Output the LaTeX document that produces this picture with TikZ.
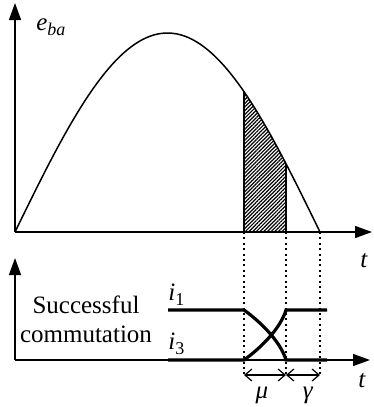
\documentclass[tikz,border=0pt]{standalone}
\usepackage{fontspec}
\setmainfont{Liberation Serif}
\usetikzlibrary{arrows.meta,patterns.meta}
\newcommand{\lowidx}[1]{\raisebox{-2.5pt}{\fontsize{9}{10}\selectfont #1}}

\begin{document}
\begin{tikzpicture}[
  x=0.5pt, y=-0.5pt,
  axis/.style={-{Triangle[length=8.5pt,width=6pt]}, line width=0.75pt},
  wave/.style={line width=0.75pt},
  current/.style={line width=1.6pt},
  guide/.style={line width=1pt, dash pattern=on 1pt off 1.7pt},
  dim/.style={{Straight Barb[length=3.5pt,width=6pt]}-{Straight Barb[length=3.5pt,width=6pt]}, line width=0.6pt},
  lbl/.style={inner sep=0pt, font=\fontsize{12.5}{15}\selectfont}
]
\useasboundingbox (0,0) rectangle (374,407);
\coordinate (o1) at (15,232);
\coordinate (o2) at (15,360);
\coordinate (y1) at (15,3);
\coordinate (x1) at (372,232);
\coordinate (y2) at (15,258);
\coordinate (x2) at (370,360);

\fill[pattern={Lines[angle=45,distance=1.3pt,line width=0.6pt]}]
  (244,232) -- plot[domain=244:286, samples=20] (\x, {232-199*sin((\x-15)/305*180)}) -- (286,232) -- cycle;
\draw[wave] (244,232) -- (244,{232-199*sin((244-15)/305*180)});
\draw[wave] (286,232) -- (286,{232-199*sin((286-15)/305*180)});
\draw[wave] plot[domain=15:320, samples=80] (\x, {232-199*sin((\x-15)/305*180)});

\foreach \x/\n in {244/a,286/b,320/c} {
  \coordinate (top\n) at (\x,232);
  \coordinate (bot\n) at (\x,375);
  \draw[guide] (top\n) -- (bot\n);
}

\draw[axis] (o1) -- (y1);
\draw[axis] (o1) -- (x1);
\draw[axis] (o2) -- (y2);
\draw[axis] (o2) -- (x2);

\draw[current] (168,310) -- (244,310) .. controls (258,320) and (280,340) .. (286,360) -- (327,360);
\draw[current] (168,360) -- (244,360) .. controls (258,350) and (280,330) .. (286,310) -- (327,310);

\draw[dim] (bota) -- (botb);
\draw[dim] (botb) -- (botc);

\node[lbl, anchor=base west] (eba) at (36,30) {\textit{e}\lowidx{\textit{ba}}};
\node[lbl, anchor=base west] (t1) at (360,267) {\textit{t}};
\node[lbl, anchor=base west] (t2) at (358,387) {\textit{t}};
\node[lbl, anchor=base] (succ) at (86,313) {Successful};
\node[lbl, anchor=base] (comm) at (86,342) {commutation};
\node[lbl, anchor=base west] (i1) at (168,300) {\textit{i}\lowidx{1}};
\node[lbl, anchor=base west] (i3) at (168,349) {\textit{i}\lowidx{3}};
\node[lbl, anchor=base] (mu) at (262,398) {\textit{μ}};
\node[lbl, anchor=base] (gam) at (308,398) {\textit{γ}};
\end{tikzpicture}
\end{document}
